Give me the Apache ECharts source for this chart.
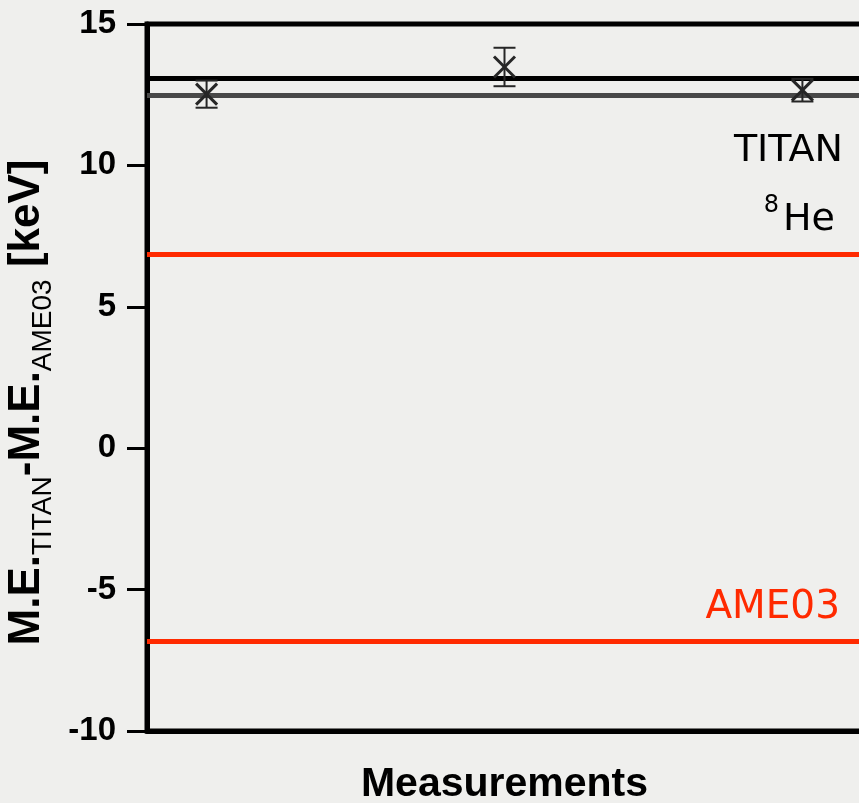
<!DOCTYPE html>
<html>
<head>
<meta charset="utf-8">
<script src="https://cdn.jsdelivr.net/npm/echarts@6/dist/echarts.min.js"></script>
<style>
  html, body { margin: 0; padding: 0; background: #efefed; }
  #chart { width: 859px; height: 803px; }
</style>
</head>
<body>
<div id="chart"></div>
<script>
// 8He mass-excess differences, TITAN minus AME03 (keV)
const measurementIndex = [1, 2, 3];
const deltaMass = [12.52, 13.48, 12.66];
const deltaErr = [0.48, 0.68, 0.40];
const titanMean = 13.08;
const secondaryMean = 12.48;
const ame03Band = [6.87, -6.84];
const yTicks = [-10, -5, 0, 5, 10, 15];
const xRange = [0.8, 3.2];

const points = measurementIndex.map((m, i) => [m, deltaMass[i], deltaErr[i]]);

const chart = echarts.init(document.getElementById('chart'));

const boldFont = "'Liberation Sans', Arial, sans-serif";

chart.setOption({
  backgroundColor: '#efefed',
  animation: false,
  grid: {
    left: 147, top: 24, right: -3, bottom: 72,
    outerBoundsMode: 'none',
    containLabel: false,
    show: true, borderColor: '#000', borderWidth: 5, backgroundColor: 'transparent'
  },
  xAxis: {
    type: 'value',
    min: xRange[0], max: xRange[1],
    axisLine: { show: true, onZero: false, lineStyle: { color: '#000', width: 5 } },
    axisTick: { show: false },
    axisLabel: { show: false },
    splitLine: { show: false },
    name: 'Measurements',
    nameLocation: 'middle',
    nameGap: 33,
    nameTextStyle: { fontFamily: boldFont, fontWeight: 'bold', fontSize: 41, color: '#000' }
  },
  yAxis: {
    type: 'value',
    min: yTicks[0], max: yTicks[yTicks.length - 1], interval: yTicks[1] - yTicks[0],
    axisLine: { show: true, lineStyle: { color: '#000', width: 5 } },
    axisTick: { show: true, inside: false, length: 20, lineStyle: { color: '#000', width: 3 } },
    axisLabel: { margin: 31, fontFamily: boldFont, fontWeight: 'bold', fontSize: 33, color: '#000' },
    splitLine: { show: false },
    name: '{b|M.E.}{s|TITAN}{b|-M.E.}{s|AME03}{b| [keV]}',
    nameLocation: 'middle',
    nameGap: 76,
    nameTextStyle: {
      padding: [0, 50, 0, 0],
      rich: {
        b: { fontFamily: boldFont, fontWeight: 'bold', fontSize: 44, color: '#000' },
        s: { fontFamily: boldFont, fontWeight: 'normal', fontSize: 28, color: '#000', padding: [33, 0, 0, 0] }
      }
    }
  },
  graphic: [
    {
      type: 'text', right: 859 - 843, top: 132, z: 10,
      style: { text: 'TITAN', font: "38px 'DejaVu Sans'", fill: '#000' }
    },
    {
      type: 'text', right: 859 - 835, top: 194, z: 10,
      style: {
        text: '{sup|8}{he|He}',
        rich: {
          sup: { font: "24px 'DejaVu Sans'", fill: '#000', padding: [0, 4, 28, 0] },
          he: { font: "38px 'DejaVu Sans'", fill: '#000' }
        }
      }
    },
    {
      type: 'text', right: 859 - 840, top: 588, z: 10,
      style: { text: 'AME03', font: "39px 'DejaVu Sans'", fill: '#ff2a00' }
    }
  ],
  series: [
    {
      type: 'line',
      data: [],
      z: 1,
      markLine: {
        silent: true,
        symbol: 'none',
        label: { show: false },
        data: [
          { yAxis: secondaryMean, lineStyle: { color: '#484848', width: 5, type: 'solid' } },
          { yAxis: titanMean, lineStyle: { color: '#000', width: 5, type: 'solid' } },
          { yAxis: ame03Band[0], lineStyle: { color: '#ff2a00', width: 5, type: 'solid' } },
          { yAxis: ame03Band[1], lineStyle: { color: '#ff2a00', width: 5, type: 'solid' } }
        ]
      }
    },
    {
      type: 'custom',
      z: 5,
      data: points,
      renderItem: function (params, api) {
        const x = api.value(0), y = api.value(1), e = api.value(2);
        const c = api.coord([x, y]);
        const top = api.coord([x, y + e]);
        const bot = api.coord([x, y - e]);
        const cap = 11, arm = 10.5;
        const thin = { stroke: '#262626', lineWidth: 2 };
        const thick = { stroke: '#262626', lineWidth: 3 };
        return {
          type: 'group',
          children: [
            { type: 'line', shape: { x1: c[0], y1: top[1], x2: c[0], y2: bot[1] }, style: thin },
            { type: 'line', shape: { x1: c[0] - cap, y1: top[1], x2: c[0] + cap, y2: top[1] }, style: thin },
            { type: 'line', shape: { x1: c[0] - cap, y1: bot[1], x2: c[0] + cap, y2: bot[1] }, style: thin },
            { type: 'line', shape: { x1: c[0] - arm, y1: c[1] - arm, x2: c[0] + arm, y2: c[1] + arm }, style: thick },
            { type: 'line', shape: { x1: c[0] - arm, y1: c[1] + arm, x2: c[0] + arm, y2: c[1] - arm }, style: thick }
          ]
        };
      }
    }
  ]
});
</script>
</body>
</html>
